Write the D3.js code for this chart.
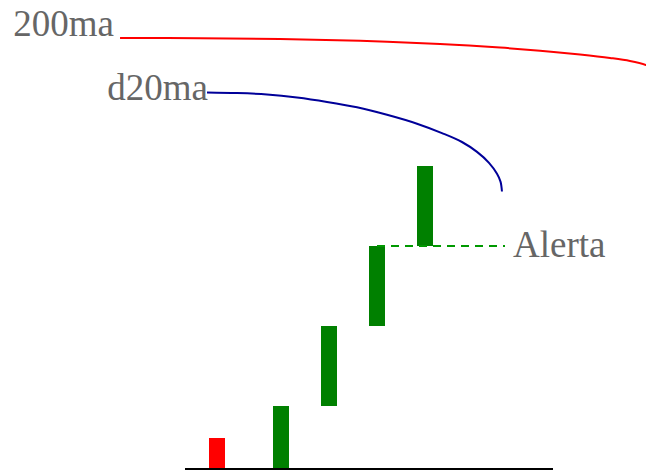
<!DOCTYPE html>
<html>
<head>
<meta charset="utf-8">
<script src="https://cdn.jsdelivr.net/npm/d3@7"></script>
<style>
  html, body { margin: 0; padding: 0; background: #fff; }
  svg { display: block; }
  text { font-family: "Liberation Serif", "Times New Roman", serif; fill: #666; }
</style>
</head>
<body>
<svg id="chart" width="646" height="472"></svg>
<script>
// ---- data ----
// waterfall bars: [position, start, end]
const barPositions = [2, 6, 9, 12, 15];
const barStarts    = [0, 0, 31, 71, 111];
const barEnds      = [15, 31, 71, 111, 151];
const barColors    = ["red", "green", "green", "green", "green"];

// alert level
const alertLabel = "Alerta";
const alertLevel = 111;
const alertFrom  = 12;
const alertTo    = 20;

// moving-average curves
const ma200Label = "200ma";
const ma200X = [-4.06, 0.94, 5.94, 10.94, 15.94, 19.69, 22.19, 24.69, 26.56, 27.81, 28.81, 29.19];
const ma200Y = [215, 214.9, 214.5, 213.6, 212, 210.2, 208.65, 206.75, 205.05, 203.55, 201.5, 200];

const ma20Label = "d20ma";
const ma20X = [1.375, 3.25, 5.125, 7.0, 8.875, 10.75, 12.625, 14.5, 16.06, 17.31, 18.25, 19.0, 19.5, 19.72, 19.81];
const ma20Y = [187.75, 187.45, 186.75, 185.25, 183.05, 180.33, 176.6, 172.15, 167.45, 163, 158.05, 152.6, 147.15, 143.2, 138.25];

const axisFrom = 0, axisTo = 23;

// ---- scales ----
const svg = d3.select("#chart");
const x = d3.scaleLinear().domain([0, 23]).range([185, 553]);
const y = d3.scaleLinear().domain([0, 234]).range([468, 0]);
const bw = x(1) - x(0);

// bars
svg.append("g").selectAll("rect")
  .data(barPositions.map((p, i) => ({p, s: barStarts[i], e: barEnds[i], c: barColors[i]})))
  .join("rect")
  .attr("x", d => x(d.p) - bw / 2)
  .attr("width", bw)
  .attr("y", d => y(Math.max(d.s, d.e)))
  .attr("height", d => Math.abs(y(d.s) - y(d.e)))
  .attr("fill", d => d.c === "red" ? "#ff0000" : "#008000");

// baseline axis
svg.append("line")
  .attr("x1", x(axisFrom)).attr("x2", x(axisTo))
  .attr("y1", y(0) + 1).attr("y2", y(0) + 1)
  .attr("stroke", "#000").attr("stroke-width", 2);

// alert dashed line
svg.append("line")
  .attr("x1", x(alertFrom)).attr("x2", x(alertTo))
  .attr("y1", y(alertLevel)).attr("y2", y(alertLevel))
  .attr("stroke", "#009900").attr("stroke-width", 2)
  .attr("stroke-dasharray", "8,6");
svg.append("text")
  .attr("x", x(alertTo) + 8).attr("y", y(alertLevel) + 11)
  .attr("font-size", 37)
  .text(alertLabel);

// curves
const line = d3.line().x(d => x(d[0])).y(d => y(d[1])).curve(d3.curveCatmullRom.alpha(0.5));

svg.append("path")
  .attr("d", line(ma200X.map((v, i) => [v, ma200Y[i]])))
  .attr("fill", "none").attr("stroke", "#ff0000").attr("stroke-width", 2);
svg.append("text")
  .attr("x", x(ma200X[0]) - 6).attr("y", y(ma200Y[0]) - 2)
  .attr("text-anchor", "end").attr("font-size", 37)
  .text(ma200Label);

svg.append("path")
  .attr("d", line(ma20X.map((v, i) => [v, ma20Y[i]])))
  .attr("fill", "none").attr("stroke", "#000099").attr("stroke-width", 2);
svg.append("text")
  .attr("x", x(ma20X[0]) + 1).attr("y", y(ma20Y[0]) + 7.5)
  .attr("text-anchor", "end").attr("font-size", 37)
  .text(ma20Label);
</script>
</body>
</html>
